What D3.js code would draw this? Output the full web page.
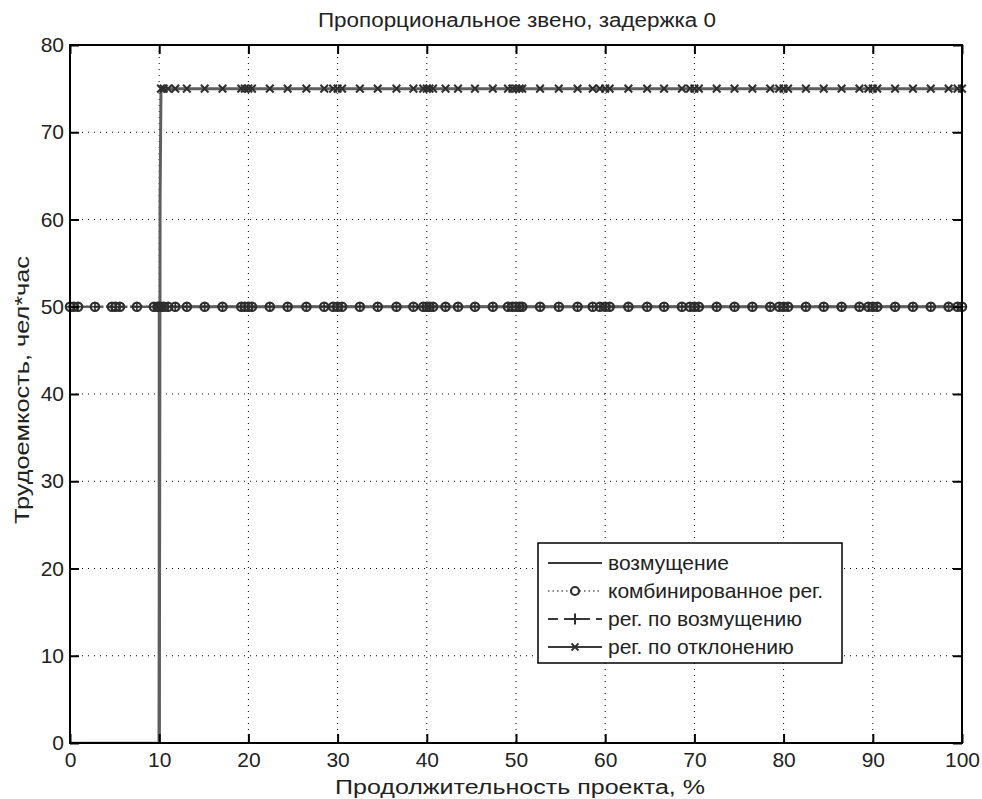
<!DOCTYPE html>
<html>
<head>
<meta charset="utf-8">
<script src="https://cdn.jsdelivr.net/npm/d3@7"></script>
<style>
    body { margin: 0; background: #fff; }
    svg text { font-family: "Liberation Sans", Arial, sans-serif; fill: #222; }
</style>
</head>
<body>
<div class="js-chart"></div>
<script>
'use strict';

//chart texts
var titleText = 'Пропорциональное звено, задержка 0';
var xLabelText = 'Продолжительность проекта, %';
var yLabelText = 'Трудоемкость, чел*час';
var legendNames = ['возмущение', 'комбинированное рег.', 'рег. по возмущению', 'рег. по отклонению'];

//axis ticks
var xTicks = [0, 10, 20, 30, 40, 50, 60, 70, 80, 90, 100];
var yTicks = [0, 10, 20, 30, 40, 50, 60, 70, 80];

//disturbance step
var disturbTime = [0, 10, 10, 100];
var disturbValues = [0, 0, 50, 50];

//solver sample times (combined and feedforward control)
var sampleTime = [
    0, 0.4, 0.9, 2.8, 4.7, 5.1, 5.6, 7.5, 9.4, 9.8,
    10, 10.2, 10.5, 11, 11.8, 13.1, 15.1, 17.1, 19.2, 19.6,
    20, 20.4, 22.4, 24.4, 26.5, 28.5, 29.5, 30, 30.5, 32.5,
    34.5, 36.6, 38.5, 39.6, 40, 40.3, 40.7, 42.1, 43.5, 45.4,
    47.4, 49.1, 49.6, 50, 50.4, 50.7, 52.7, 54.8, 56.9, 58.6,
    59.4, 60, 60.5, 62.6, 64.7, 66.6, 68.6, 69.5, 70, 70.5,
    72.5, 74.5, 76.5, 78.5, 79.5, 80, 80.5, 82.5, 84.5, 86.5,
    88.5, 89.5, 90, 90.5, 92.5, 94.5, 96.5, 98.5, 99.5, 100
];
var combinedValues = [
    50, 50, 50, 50, 50, 50, 50, 50, 50, 50,
    50, 50, 50, 50, 50, 50, 50, 50, 50, 50,
    50, 50, 50, 50, 50, 50, 50, 50, 50, 50,
    50, 50, 50, 50, 50, 50, 50, 50, 50, 50,
    50, 50, 50, 50, 50, 50, 50, 50, 50, 50,
    50, 50, 50, 50, 50, 50, 50, 50, 50, 50,
    50, 50, 50, 50, 50, 50, 50, 50, 50, 50,
    50, 50, 50, 50, 50, 50, 50, 50, 50, 50
];
var feedforwardValues = [
    50, 50, 50, 50, 50, 50, 50, 50, 50, 50,
    50, 50, 50, 50, 50, 50, 50, 50, 50, 50,
    50, 50, 50, 50, 50, 50, 50, 50, 50, 50,
    50, 50, 50, 50, 50, 50, 50, 50, 50, 50,
    50, 50, 50, 50, 50, 50, 50, 50, 50, 50,
    50, 50, 50, 50, 50, 50, 50, 50, 50, 50,
    50, 50, 50, 50, 50, 50, 50, 50, 50, 50,
    50, 50, 50, 50, 50, 50, 50, 50, 50, 50
];

//feedback control starts at the step
var feedbackTime = [
    10, 10.05, 10.1, 10.2, 10.5, 11, 11.8, 13.1, 15.1, 17.1, 19.2, 19.6,
    20, 20.4, 22.4, 24.4, 26.5, 28.5, 29.5, 30, 30.5, 32.5,
    34.5, 36.6, 38.5, 39.6, 40, 40.3, 40.7, 42.1, 43.5, 45.4,
    47.4, 49.1, 49.6, 50, 50.4, 50.7, 52.7, 54.8, 56.9, 58.6,
    59.4, 60, 60.5, 62.6, 64.7, 66.6, 68.6, 69.5, 70, 70.5,
    72.5, 74.5, 76.5, 78.5, 79.5, 80, 80.5, 82.5, 84.5, 86.5,
    88.5, 89.5, 90, 90.5, 92.5, 94.5, 96.5, 98.5, 99.5, 100
];
var feedbackValues = [
    0, 25, 62.5, 75, 75, 75, 75, 75, 75, 75, 75, 75,
    75, 75, 75, 75, 75, 75, 75, 75, 75, 75,
    75, 75, 75, 75, 75, 75, 75, 75, 75, 75,
    75, 75, 75, 75, 75, 75, 75, 75, 75, 75,
    75, 75, 75, 75, 75, 75, 75, 75, 75, 75,
    75, 75, 75, 75, 75, 75, 75, 75, 75, 75,
    75, 75, 75, 75, 75, 75, 75, 75, 75, 75
];

var dim = { w: 982, h: 799 };
var plot = { left: 70, right: 962, top: 45, bottom: 743 };
var lineColor = '#5e5e5e';
var markColor = '#2e2e2e';

var svg = d3.select('.js-chart').append('svg')
    .attr('width', dim.w)
    .attr('height', dim.h);

var x = d3.scaleLinear().domain([0, 100]).range([plot.left, plot.right]);
var y = d3.scaleLinear().domain([0, 80]).range([plot.bottom, plot.top]);

//zip time and value arrays
function zip(xs, ys) {
    return xs.map(function (d, i) { return [d, ys[i]]; });
}

//clip slightly inside the frame so the zero level hides under the axis
svg.append('clipPath').attr('id', 'plot-clip')
    .append('rect')
    .attr('x', plot.left).attr('y', plot.top)
    .attr('width', plot.right - plot.left).attr('height', plot.bottom - plot.top - 1.5);

//dotted grid
var grid = svg.append('g');
grid.selectAll('.js-gx').data(xTicks.slice(1, -1)).enter().append('line')
    .attr('x1', x).attr('x2', x)
    .attr('y1', plot.top).attr('y2', plot.bottom)
    .style('stroke', '#000').style('stroke-width', 1).style('stroke-dasharray', '1,5');
grid.selectAll('.js-gy').data(yTicks.slice(1, -1)).enter().append('line')
    .attr('y1', y).attr('y2', y)
    .attr('x1', plot.left).attr('x2', plot.right)
    .style('stroke', '#000').style('stroke-width', 1).style('stroke-dasharray', '1,5');

var line = d3.line()
    .x(function (d) { return x(d[0]); })
    .y(function (d) { return y(d[1]); });

var series = svg.append('g').attr('clip-path', 'url(#plot-clip)');

//disturbance - solid
series.append('path')
    .datum(zip(disturbTime, disturbValues))
    .attr('d', line)
    .style('fill', 'none').style('stroke', lineColor).style('stroke-width', 3);

//feedback - solid with x marks
var fbData = zip(feedbackTime, feedbackValues);
series.append('path')
    .datum(fbData)
    .attr('d', line)
    .style('fill', 'none').style('stroke', lineColor).style('stroke-width', 3);

//feedforward - dashed with plus
var ffData = zip(sampleTime, feedforwardValues);
series.append('path')
    .datum(ffData)
    .attr('d', line)
    .style('fill', 'none').style('stroke', lineColor).style('stroke-width', 2.5)
    .style('stroke-dasharray', '8,4');

//combined - dotted with circles
var cbData = zip(sampleTime, combinedValues);
series.append('path')
    .datum(cbData)
    .attr('d', line)
    .style('fill', 'none').style('stroke', lineColor).style('stroke-width', 2.5)
    .style('stroke-dasharray', '1.5,2.5');

function crossPath(cx, cy, r) {
    return 'M' + (cx - r) + ',' + (cy - r) + 'L' + (cx + r) + ',' + (cy + r) +
        'M' + (cx - r) + ',' + (cy + r) + 'L' + (cx + r) + ',' + (cy - r);
}
function plusPath(cx, cy, r) {
    return 'M' + (cx - r) + ',' + cy + 'H' + (cx + r) +
        'M' + cx + ',' + (cy - r) + 'V' + (cy + r);
}

var marks = svg.append('g');
marks.selectAll('.js-circle').data(cbData).enter().append('circle')
    .attr('cx', function (d) { return x(d[0]); })
    .attr('cy', function (d) { return y(d[1]); })
    .attr('r', 4.2)
    .style('fill', 'none').style('stroke', markColor).style('stroke-width', 2.2);

marks.selectAll('.js-plus').data(ffData).enter().append('path')
    .attr('d', function (d) { return plusPath(x(d[0]), y(d[1]), 4.5); })
    .style('stroke', markColor).style('stroke-width', 1.6);

marks.selectAll('.js-cross').data(fbData.filter(function (d) { return d[1] === 75; })).enter().append('path')
    .attr('d', function (d) { return crossPath(x(d[0]), y(d[1]), 3.8); })
    .style('stroke', markColor).style('stroke-width', 2);

//axes with inward ticks on all sides
function styleAxis(g) {
    g.select('.domain').remove();
    g.selectAll('.tick line').style('stroke', '#000').style('stroke-width', 2);
    g.selectAll('.tick text').style('font-size', '21px').style('fill', '#222')
        .style('font-family', '"Liberation Sans", Arial, sans-serif');
}
svg.append('g').attr('transform', 'translate(0,' + plot.bottom + ')')
    .call(d3.axisBottom(x).tickValues(xTicks).tickSize(-9).tickPadding(9))
    .call(styleAxis);
svg.append('g').attr('transform', 'translate(0,' + plot.top + ')')
    .call(d3.axisTop(x).tickValues(xTicks).tickSize(-9).tickFormat(''))
    .call(styleAxis);
svg.append('g').attr('transform', 'translate(' + plot.left + ',0)')
    .call(d3.axisLeft(y).tickValues(yTicks).tickSize(-9).tickPadding(6))
    .call(styleAxis);
svg.append('g').attr('transform', 'translate(' + plot.right + ',0)')
    .call(d3.axisRight(y).tickValues(yTicks).tickSize(-9).tickFormat(''))
    .call(styleAxis);

svg.append('rect')
    .attr('x', plot.left).attr('y', plot.top)
    .attr('width', plot.right - plot.left).attr('height', plot.bottom - plot.top)
    .style('fill', 'none').style('stroke', '#000').style('stroke-width', 2);

//title and labels
svg.append('text').text(titleText)
    .attr('x', 517).attr('y', 27)
    .attr('text-anchor', 'middle').style('font-size', '20px')
    .attr('textLength', 398).attr('lengthAdjust', 'spacingAndGlyphs');
svg.append('text').text(xLabelText)
    .attr('x', 520).attr('y', 794)
    .attr('text-anchor', 'middle').style('font-size', '20px')
    .attr('textLength', 370).attr('lengthAdjust', 'spacingAndGlyphs');
svg.append('text').text(yLabelText)
    .attr('transform', 'translate(29,390) rotate(-90)')
    .attr('text-anchor', 'middle').style('font-size', '20px')
    .attr('textLength', 268).attr('lengthAdjust', 'spacingAndGlyphs');

//legend
var legend = svg.append('g').attr('transform', 'translate(538,543)');
legend.append('rect')
    .attr('width', 304).attr('height', 120)
    .style('fill', '#fff').style('stroke', '#000').style('stroke-width', 1.5);

var legendRows = [
    { dash: null, mark: null },
    { dash: '1.5,3', mark: 'circle' },
    { dash: '10,6', mark: 'plus' },
    { dash: null, mark: 'cross' }
];
legendRows.forEach(function (row, i) {
    var ly = 20 + i * 28;
    legend.append('line')
        .attr('x1', 10).attr('x2', 64).attr('y1', ly).attr('y2', ly)
        .style('stroke', row.mark === 'circle' ? '#888' : '#3a3a3a').style('stroke-width', 2.2)
        .style('stroke-dasharray', row.dash);
    if (row.mark === 'circle') {
        legend.append('circle').attr('cx', 37).attr('cy', ly).attr('r', 4)
            .style('fill', '#fff').style('stroke', markColor).style('stroke-width', 2.2);
    } else if (row.mark === 'plus') {
        legend.append('path').attr('d', plusPath(37, ly, 5.5))
            .style('stroke', markColor).style('stroke-width', 2);
    } else if (row.mark === 'cross') {
        legend.append('path').attr('d', crossPath(37, ly, 3.5))
            .style('stroke', markColor).style('stroke-width', 1.8);
    }
    legend.append('text').text(legendNames[i])
        .attr('x', 70).attr('y', ly + 7)
        .style('font-size', '21px');
});
</script>
</body>
</html>
